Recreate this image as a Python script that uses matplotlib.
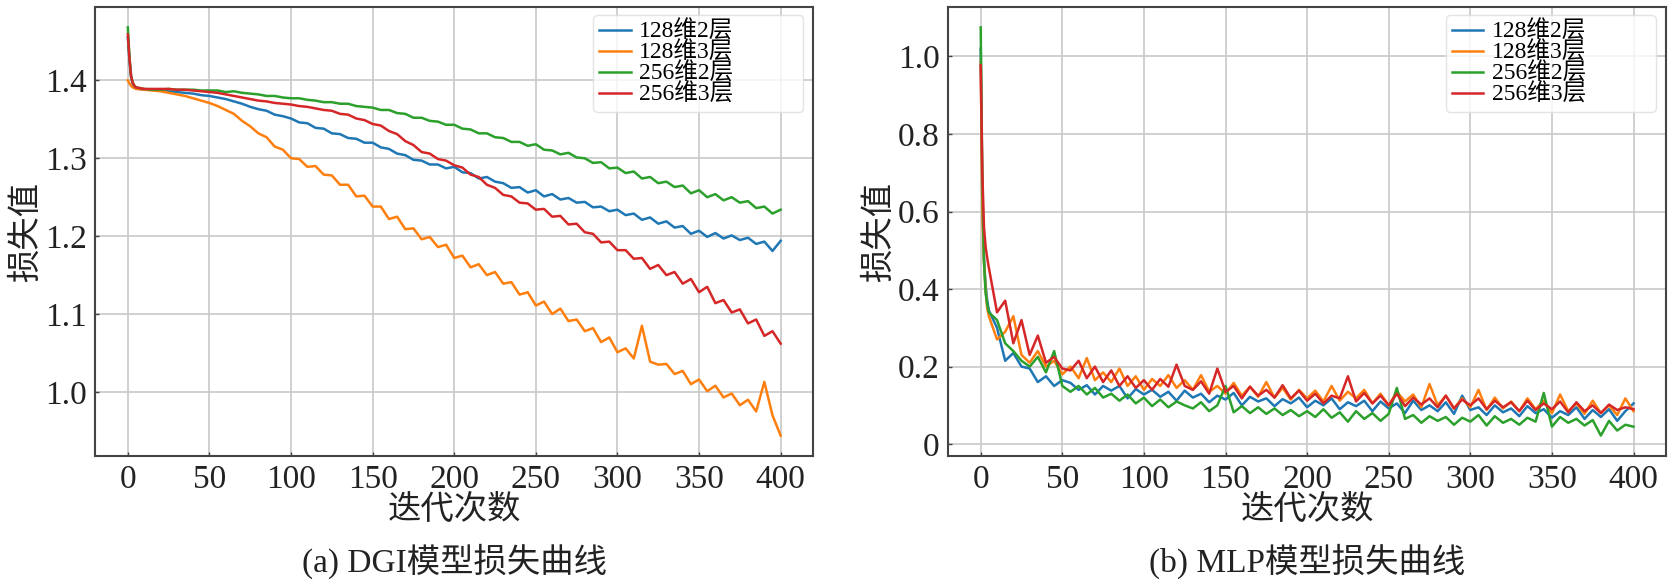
import matplotlib
matplotlib.use('Agg')
from matplotlib import pyplot as plt

plt.rcParams['font.family'] = ['Liberation Serif', 'Noto Sans CJK SC']

# iterations: 0..4 then every 5 up to 400
iters = [0, 1, 2, 3, 4] + list(range(5, 401, 5))

labels = ['128维2层', '128维3层', '256维2层', '256维3层']
colors = ['#1f77b4', '#ff7f0e', '#2ca02c', '#d62728']

# (a) DGI loss
dgi_128_2 = [1.455, 1.425, 1.404, 1.396, 1.392, 1.390, 1.388, 1.388, 1.387, 1.386,
             1.385, 1.384, 1.383, 1.381, 1.380, 1.378, 1.376, 1.373, 1.370, 1.366,
             1.363, 1.361, 1.356, 1.354, 1.351, 1.346, 1.345, 1.339, 1.338, 1.332,
             1.331, 1.326, 1.325, 1.320, 1.320, 1.314, 1.312, 1.306, 1.304, 1.298,
             1.297, 1.292, 1.292, 1.287, 1.289, 1.282, 1.281, 1.274, 1.276, 1.270,
             1.268, 1.262, 1.263, 1.256, 1.259, 1.251, 1.254, 1.247, 1.249, 1.243,
             1.244, 1.237, 1.238, 1.232, 1.234, 1.227, 1.229, 1.221, 1.224, 1.216,
             1.219, 1.211, 1.213, 1.203, 1.207, 1.199, 1.204, 1.197, 1.201, 1.195,
             1.198, 1.190, 1.193, 1.181, 1.194]
dgi_128_3 = [1.400, 1.396, 1.393, 1.391, 1.390, 1.389, 1.388, 1.387, 1.386, 1.384,
             1.382, 1.380, 1.377, 1.374, 1.371, 1.367, 1.362, 1.357, 1.348, 1.341,
             1.332, 1.327, 1.315, 1.311, 1.300, 1.299, 1.289, 1.290, 1.279, 1.278,
             1.266, 1.266, 1.251, 1.252, 1.238, 1.238, 1.222, 1.225, 1.209, 1.210,
             1.196, 1.199, 1.186, 1.189, 1.172, 1.175, 1.160, 1.164, 1.150, 1.154,
             1.139, 1.141, 1.125, 1.128, 1.111, 1.116, 1.100, 1.107, 1.091, 1.093,
             1.078, 1.082, 1.064, 1.070, 1.051, 1.056, 1.043, 1.085, 1.039, 1.035,
             1.036, 1.023, 1.027, 1.010, 1.016, 1.001, 1.008, 0.993, 0.998, 0.983,
             0.990, 0.975, 1.013, 0.970, 0.944]
dgi_256_2 = [1.468, 1.430, 1.405, 1.397, 1.393, 1.391, 1.389, 1.388, 1.388, 1.389,
             1.388, 1.388, 1.388, 1.387, 1.387, 1.387, 1.385, 1.386, 1.384, 1.383,
             1.382, 1.380, 1.380, 1.378, 1.377, 1.377, 1.375, 1.374, 1.372, 1.372,
             1.370, 1.370, 1.367, 1.366, 1.365, 1.362, 1.362, 1.358, 1.357, 1.352,
             1.352, 1.348, 1.347, 1.343, 1.343, 1.338, 1.337, 1.332, 1.332, 1.327,
             1.326, 1.321, 1.321, 1.316, 1.318, 1.311, 1.310, 1.305, 1.307, 1.301,
             1.300, 1.294, 1.295, 1.287, 1.288, 1.281, 1.283, 1.274, 1.276, 1.268,
             1.270, 1.263, 1.265, 1.255, 1.259, 1.250, 1.254, 1.246, 1.250, 1.243,
             1.245, 1.236, 1.238, 1.229, 1.234]
dgi_256_3 = [1.459, 1.428, 1.405, 1.397, 1.393, 1.391, 1.389, 1.389, 1.389, 1.389,
             1.388, 1.388, 1.387, 1.386, 1.385, 1.384, 1.382, 1.380, 1.378, 1.376,
             1.374, 1.373, 1.371, 1.370, 1.369, 1.367, 1.366, 1.364, 1.362, 1.361,
             1.357, 1.356, 1.351, 1.349, 1.344, 1.342, 1.335, 1.331, 1.322, 1.317,
             1.308, 1.306, 1.299, 1.297, 1.291, 1.288, 1.279, 1.276, 1.266, 1.262,
             1.253, 1.251, 1.243, 1.242, 1.234, 1.235, 1.225, 1.226, 1.215, 1.216,
             1.205, 1.203, 1.192, 1.193, 1.182, 1.182, 1.171, 1.172, 1.158, 1.163,
             1.150, 1.154, 1.139, 1.145, 1.128, 1.135, 1.114, 1.118, 1.102, 1.106,
             1.088, 1.093, 1.072, 1.078, 1.062]

# (b) MLP loss
mlp_128_2 = [1.020, 0.640, 0.480, 0.410, 0.370, 0.345, 0.300, 0.215, 0.235, 0.200,
             0.195, 0.160, 0.175, 0.150, 0.165, 0.158, 0.140, 0.152, 0.128, 0.150,
             0.138, 0.150, 0.118, 0.142, 0.128, 0.140, 0.122, 0.135, 0.112, 0.138,
             0.120, 0.130, 0.108, 0.125, 0.115, 0.132, 0.100, 0.122, 0.110, 0.118,
             0.098, 0.116, 0.105, 0.120, 0.095, 0.112, 0.100, 0.118, 0.090, 0.108,
             0.098, 0.112, 0.085, 0.110, 0.092, 0.105, 0.080, 0.112, 0.088, 0.100,
             0.085, 0.108, 0.078, 0.125, 0.088, 0.095, 0.075, 0.100, 0.082, 0.092,
             0.072, 0.098, 0.080, 0.090, 0.068, 0.085, 0.075, 0.095, 0.065, 0.088,
             0.070, 0.090, 0.060, 0.085, 0.105]
mlp_128_3 = [0.990, 0.600, 0.470, 0.400, 0.350, 0.330, 0.270, 0.290, 0.330, 0.230,
             0.210, 0.240, 0.200, 0.215, 0.180, 0.200, 0.170, 0.222, 0.165, 0.185,
             0.160, 0.195, 0.150, 0.175, 0.140, 0.168, 0.150, 0.178, 0.145, 0.165,
             0.140, 0.178, 0.135, 0.150, 0.130, 0.158, 0.125, 0.148, 0.122, 0.160,
             0.120, 0.145, 0.115, 0.140, 0.118, 0.138, 0.110, 0.150, 0.112, 0.135,
             0.118, 0.140, 0.105, 0.130, 0.100, 0.135, 0.110, 0.128, 0.095, 0.155,
             0.100, 0.125, 0.092, 0.118, 0.095, 0.140, 0.088, 0.120, 0.092, 0.110,
             0.085, 0.118, 0.090, 0.112, 0.080, 0.128, 0.085, 0.105, 0.078, 0.112,
             0.080, 0.100, 0.075, 0.118, 0.085]
mlp_256_2 = [1.075, 0.680, 0.470, 0.390, 0.360, 0.340, 0.320, 0.260, 0.240, 0.215,
             0.200, 0.225, 0.185, 0.240, 0.150, 0.135, 0.150, 0.128, 0.145, 0.120,
             0.130, 0.112, 0.128, 0.105, 0.120, 0.098, 0.115, 0.095, 0.110, 0.100,
             0.092, 0.108, 0.085, 0.100, 0.150, 0.082, 0.098, 0.080, 0.095, 0.078,
             0.092, 0.075, 0.088, 0.072, 0.085, 0.070, 0.090, 0.068, 0.082, 0.058,
             0.085, 0.065, 0.080, 0.060, 0.078, 0.145, 0.065, 0.075, 0.055, 0.072,
             0.060, 0.070, 0.050, 0.068, 0.058, 0.075, 0.048, 0.072, 0.055, 0.065,
             0.050, 0.068, 0.058, 0.132, 0.045, 0.070, 0.055, 0.065, 0.048, 0.062,
             0.022, 0.060, 0.035, 0.050, 0.045]
mlp_256_3 = [0.977, 0.700, 0.560, 0.510, 0.480, 0.455, 0.340, 0.370, 0.260, 0.320,
             0.230, 0.280, 0.210, 0.225, 0.195, 0.190, 0.215, 0.170, 0.200, 0.160,
             0.190, 0.150, 0.175, 0.145, 0.165, 0.140, 0.168, 0.148, 0.205, 0.150,
             0.140, 0.162, 0.130, 0.195, 0.135, 0.150, 0.118, 0.148, 0.125, 0.140,
             0.120, 0.152, 0.118, 0.138, 0.112, 0.130, 0.105, 0.125, 0.118, 0.175,
             0.110, 0.132, 0.105, 0.125, 0.100, 0.130, 0.098, 0.120, 0.102, 0.118,
             0.095, 0.125, 0.092, 0.115, 0.100, 0.118, 0.090, 0.112, 0.095, 0.108,
             0.085, 0.112, 0.088, 0.105, 0.090, 0.110, 0.082, 0.108, 0.085, 0.100,
             0.080, 0.102, 0.088, 0.095, 0.090]

x_ticks = [0, 50, 100, 150, 200, 250, 300, 350, 400]
dgi_yticks = [1.0, 1.1, 1.2, 1.3, 1.4]
dgi_ylabels = ['1.0', '1.1', '1.2', '1.3', '1.4']
mlp_yticks = [0, 0.2, 0.4, 0.6, 0.8, 1.0]
mlp_ylabels = ['0', '0.2', '0.4', '0.6', '0.8', '1.0']

fig = plt.figure(figsize=(16.7, 5.82), dpi=100)
ax1 = fig.add_axes([0.0570, 0.2165, 0.43, 0.7715])
ax2 = fig.add_axes([0.5677, 0.2165, 0.43, 0.7715])

panels = [
  (ax1, [dgi_128_2, dgi_128_3, dgi_256_2, dgi_256_3], dgi_yticks, dgi_ylabels, '(a) DGI模型损失曲线'),
  (ax2, [mlp_128_2, mlp_128_3, mlp_256_2, mlp_256_3], mlp_yticks, mlp_ylabels, '(b) MLP模型损失曲线'),
]

for ax, series, yt, yl, caption in panels:
  for vals, lab, c in zip(series, labels, colors):
    ax.plot(iters, vals, color=c, lw=1.8, label=lab)
  ax.grid(True, color='#c8c8c8', lw=1.2)
  ax.set_axisbelow(True)
  for s in ax.spines.values():
    s.set_color('#444444')
    s.set_linewidth(1.5)
  ax.set_xticks(x_ticks)
  ax.set_yticks(yt)
  ax.set_yticklabels(yl)
  ax.tick_params(direction='in', length=3, width=1, colors='#444444',
                 labelcolor='#222222', labelsize=24, pad=6)
  ax.set_xlabel('迭代次数', fontsize=24, labelpad=0, color='#222222')
  ax.set_ylabel('损失值', fontsize=24, labelpad=2, color='#222222')
  # legend box is wider than its entries in the reference
  ax.legend(loc='upper left', bbox_to_anchor=(0.693, 0.0, 0.293, 0.982),
            mode='expand', borderaxespad=0, fontsize=17, labelspacing=-0.05,
            handlelength=1.35, handletextpad=0.35, borderpad=0.25,
            framealpha=0.8, edgecolor='#dddddd')
  bb = ax.get_position()
  fig.text(bb.x0 + bb.width / 2, 0.035, caption, ha='center', va='center',
           fontsize=24, color='#222222')

plt.savefig('out.png')
